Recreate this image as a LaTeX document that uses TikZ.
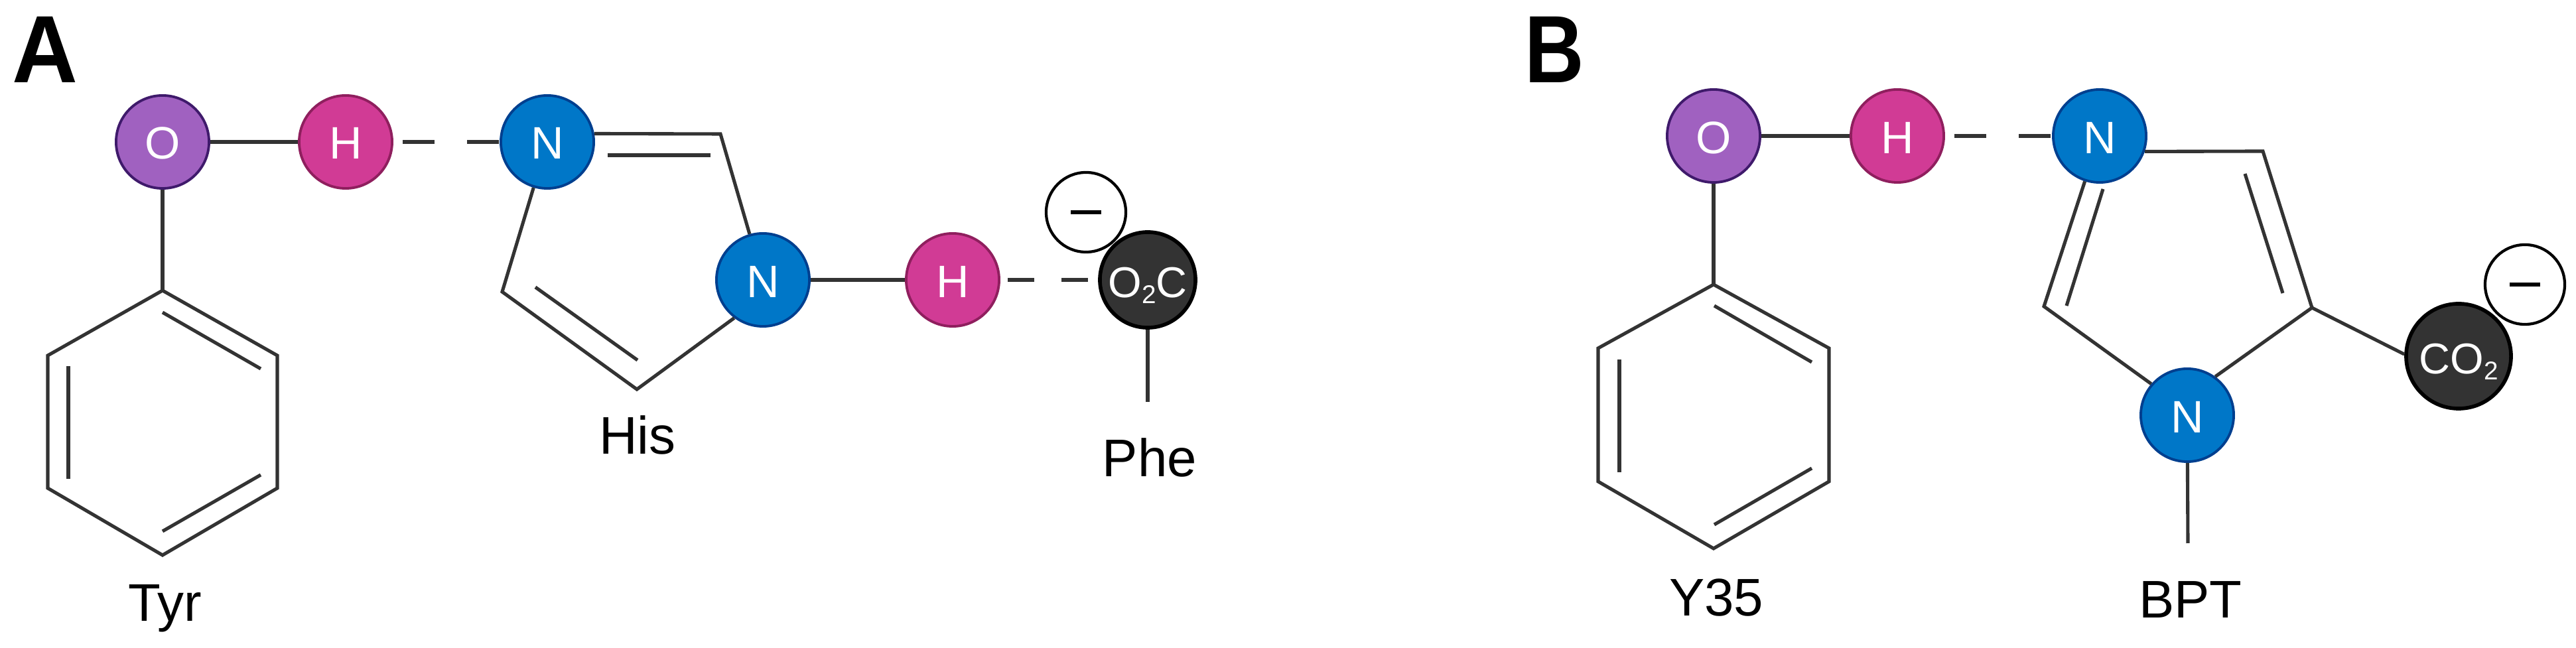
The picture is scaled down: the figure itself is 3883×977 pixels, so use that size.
\documentclass[tikz,border=0pt]{standalone}
\usepackage{fontspec}
\setmainfont{Liberation Sans}
\definecolor{bondgray}{HTML}{333333}
\definecolor{oxfill}{HTML}{A061C0}
\definecolor{oxline}{HTML}{3F1A6B}
\definecolor{hyfill}{HTML}{D13B95}
\definecolor{hyline}{HTML}{8F1F5E}
\definecolor{nifill}{HTML}{0077C8}
\definecolor{niline}{HTML}{003F8F}
\newcommand{\subtwo}{\raisebox{-0.09cm}{\fontsize{11}{12}\selectfont 2}}
\tikzset{
  bond/.style={draw=bondgray,line width=1.45pt},
  hbond/.style={bond,dash pattern=on 0.48cm off 0.49cm,dash phase=0.83cm},
  atom/.style={circle,minimum size=1.4cm,inner sep=0pt,line width=1.1pt,text=white,
    text height=0.52cm,text depth=0pt,font=\fontsize{19.5}{20}\selectfont},
  oxygen/.style={atom,draw=oxline,fill=oxfill},
  hydrogen/.style={atom,draw=hyline,fill=hyfill},
  nitrogen/.style={atom,draw=niline,fill=nifill},
  carboxyl/.style={atom,draw=black,fill=bondgray,line width=1.6pt,font=\fontsize{18.5}{20}\selectfont},
  charge/.style={circle,draw=black,fill=white,minimum size=1.2cm,inner sep=0pt,line width=1.2pt,
    text height=0.3cm,text depth=0pt},
  minusbar/.style={draw=black,line width=1.7pt},
  residue/.style={anchor=base,font=\fontsize{22.7}{24}\selectfont,text=black},
  panel/.style={anchor=base,font=\fontsize{41}{42}\bfseries\selectfont,text=black}
}
\begin{document}
\begin{tikzpicture}[x=0.01cm,y=-0.01cm]
  \useasboundingbox (0,0) rectangle (3883,977);
  % Panel letters
  \node[panel,xscale=0.95] (panelA) at (68,125) {A};
  \node[panel,xscale=0.86] (panelB) at (2343,125) {B};
  % Ring points
  \foreach \name/\pos in {aRa/{245,438},aRb/{418,536},aRc/{418,736},aRd/{245,837},aRe/{72,736},aRf/{72,536},
      aSa/{245,471},aSb/{393,556},aSc/{393,716},aSd/{245,801},aSe/{103,722},aSf/{103,552},
      bRa/{2583,429},bRb/{2757,525},bRc/{2757,726},bRd/{2583,827},bRe/{2409,726},bRf/{2409,525},
      bSa/{2584,461},bSb/{2731,546},bSc/{2731,706},bSd/{2584,791},bSe/{2441,712},bSf/{2441,542},
      aCa/{1086,202},aCb/{960,587},aCc/{757,440},aDa/{916,234},aDb/{1071,234},aDc/{807,433},aDd/{961,543},
      bCa/{3411,228},bCb/{3485,464},bCc/{3081,462},bDa/{3384,262},bDb/{3441,442},bDc/{3170,285},bDd/{3115,461},
      aEnd/{1730,606},bEnd/{3298,819}}
    \coordinate (\name) at (\pos);
  % Atoms, left
  \node[oxygen] (aO) at (245,214) {O};
  \node[hydrogen] (aHa) at (521,214) {H};
  \node[nitrogen] (aNa) at (825,214) {N};
  \node[nitrogen] (aNb) at (1150,422) {N};
  \node[hydrogen] (aHb) at (1436,422) {H};
  \node[carboxyl,minimum size=1.44cm] (aCO) at (1730,422) {O\subtwo C};
  \node[charge] (aMinus) at (1637,320) {};
  % Atoms, right
  \node[oxygen] (bO) at (2583,205) {O};
  \node[hydrogen] (bH) at (2860,205) {H};
  \node[nitrogen] (bNa) at (3165,205) {N};
  \node[nitrogen] (bNb) at (3297,626) {N};
  \node[carboxyl,minimum size=1.58cm] (bCO) at (3706,537) {CO\subtwo};
  \node[charge] (bMinus) at (3806,429) {};
  % Minus signs
  \draw[minusbar] ([xshift=-0.23cm]aMinus.center) -- ([xshift=0.23cm]aMinus.center);
  \draw[minusbar] ([xshift=-0.23cm]bMinus.center) -- ([xshift=0.23cm]bMinus.center);
  % Bonds, left
  \draw[bond] (aO) -- (aHa);
  \draw[hbond] (aHa) -- (aNa);
  \draw[bond] (aO) -- (aRa);
  \draw[bond] (aRa) -- (aRb) -- (aRc) -- (aRd) -- (aRe) -- (aRf) -- cycle;
  \draw[bond] (aSa) -- (aSb);
  \draw[bond] (aSc) -- (aSd);
  \draw[bond] (aSe) -- (aSf);
  \draw[bond] (aNa.10) -- (aCa) -- (aNb);
  \draw[bond] (aNa) -- (aCc) -- (aCb) -- (aNb.233);
  \draw[bond] (aDa) -- (aDb);
  \draw[bond] (aDc) -- (aDd);
  \draw[bond] (aNb) -- (aHb);
  \draw[bond,dash pattern=on 0.4cm off 0.41cm,dash phase=0.7cm] (aHb) -- (aCO);
  \draw[bond] (aCO) -- (aEnd);
  % Bonds, right
  \draw[bond] (bO) -- (bH);
  \draw[hbond] (bH) -- (bNa);
  \draw[bond] (bO) -- (bRa);
  \draw[bond] (bRa) -- (bRb) -- (bRc) -- (bRd) -- (bRe) -- (bRf) -- cycle;
  \draw[bond] (bSa) -- (bSb);
  \draw[bond] (bSc) -- (bSd);
  \draw[bond] (bSe) -- (bSf);
  \draw[bond] (bNa.-19) -- (bCa) -- (bCb) -- (bNb.54);
  \draw[bond] (bNa) -- (bCc) -- (bNb.139);
  \draw[bond] (bDa) -- (bDb);
  \draw[bond] (bDc) -- (bDd);
  \draw[bond] (bCb) -- (bCO.178);
  \draw[bond] (bNb) -- (bEnd);
  % Labels
  \node[residue] (tyr) at (249,937) {Tyr};
  \node[residue] (his) at (961,685) {His};
  \node[residue] (phe) at (1733,719) {Phe};
  \node[residue] (yres) at (2587,929) {Y35};
  \node[residue] (bpt) at (3302,932) {BPT};
\end{tikzpicture}
\end{document}
